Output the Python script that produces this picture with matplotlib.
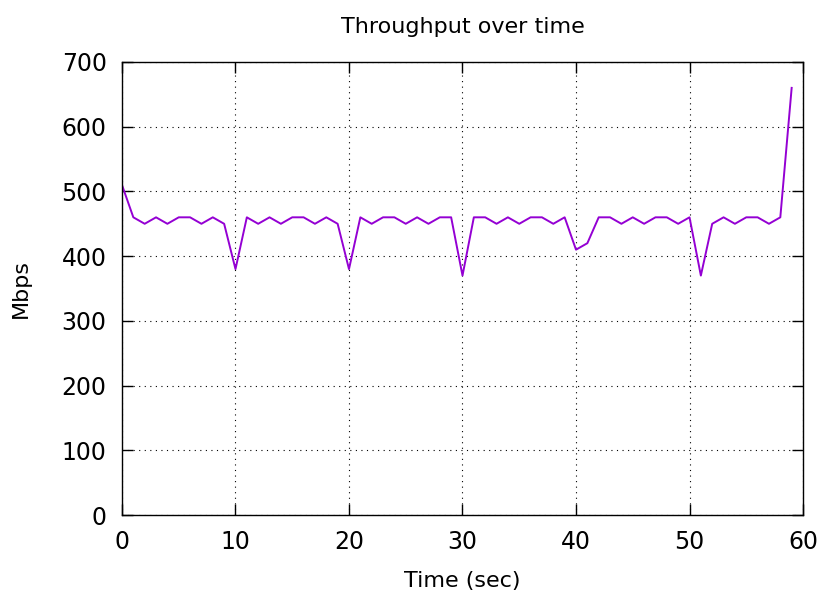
import matplotlib
matplotlib.use("Agg")
import matplotlib.pyplot as plt

time_sec = list(range(60))
mbps = [510, 460, 450, 460, 450, 460, 460, 450, 460, 450,
        380, 460, 450, 460, 450, 460, 460, 450, 460, 450,
        380, 460, 450, 460, 460, 450, 460, 450, 460, 460,
        370, 460, 460, 450, 460, 450, 460, 460, 450, 460,
        410, 420, 460, 460, 450, 460, 450, 460, 460, 450,
        460, 370, 450, 460, 450, 460, 460, 450, 460, 660]

fig = plt.figure(figsize=(8.27, 5.92), dpi=100)
ax = fig.add_axes([0.1475, 0.130, 0.8235, 0.7653])
ax.plot(time_sec, mbps, color="#9400d3", linewidth=1.4)

ax.set_xlim(0, 60)
ax.set_ylim(0, 700)
ax.set_xticks(range(0, 61, 10))
ax.set_yticks(range(0, 701, 100))
ax.tick_params(direction="in", top=True, right=True, length=8, width=1.0, labelsize=17)
ax.tick_params(axis="x", pad=11)
ax.tick_params(axis="y", pad=11)
ax.grid(True, color="black", linestyle=(0, (1, 4)), linewidth=0.8)
for s in ax.spines.values():
    s.set_linewidth(1.0)

ax.set_title("Throughput over time", fontsize=16, pad=21)
ax.set_xlabel("Time (sec)", fontsize=16, labelpad=12)
ax.set_ylabel("Mbps", fontsize=16, labelpad=22)

fig.savefig("out.png", dpi=100)
